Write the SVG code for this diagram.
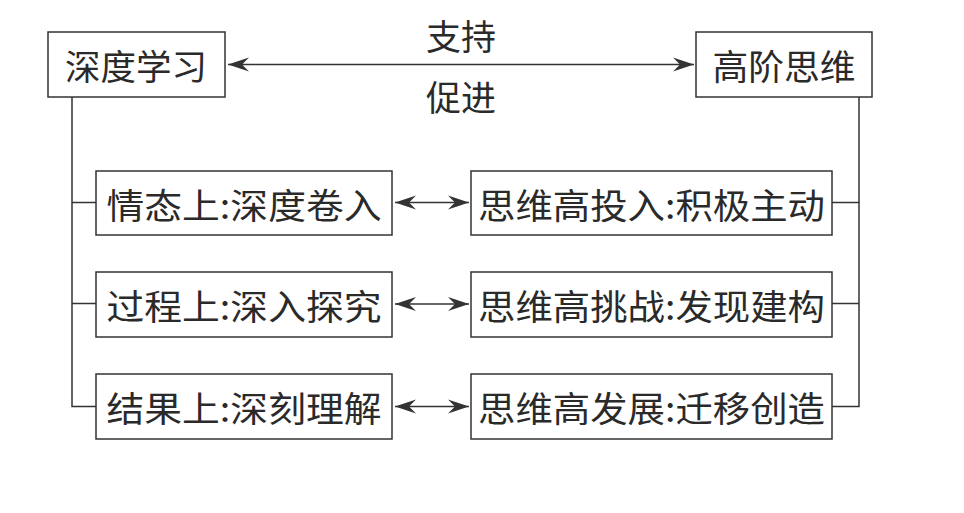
<svg xmlns="http://www.w3.org/2000/svg" width="964" height="513" viewBox="0 0 964 513">
<defs>
<style>
.box{fill:#fff;stroke:#333;stroke-width:1.5}
.t{font-family:"Noto Sans CJK SC","Noto Sans",sans-serif;font-size:35px;fill:#2a2a2a;text-anchor:middle;dominant-baseline:central}
.ln{fill:none;stroke:#333;stroke-width:1.5}
</style>
<marker id="ah" markerUnits="userSpaceOnUse" markerWidth="24" markerHeight="16" viewBox="-22 -8 24 16" refX="0" refY="0" orient="auto-start-reverse">
<path d="M0,0 L-21,-7 L-14,0 L-21,7 Z" fill="#333"/>
</marker>
</defs>
<rect width="964" height="513" fill="#fff"/>
<g id="connectors">
<line class="ln" x1="228" y1="64.5" x2="694" y2="64.5" marker-start="url(#ah)" marker-end="url(#ah)"/>
<polyline class="ln" points="72,97 72,406.5 96,406.5"/>
<line class="ln" x1="72" y1="202.5" x2="96" y2="202.5"/>
<line class="ln" x1="72" y1="303.5" x2="96" y2="303.5"/>
<polyline class="ln" points="859,97 859,406.5 832,406.5"/>
<line class="ln" x1="859" y1="202.5" x2="832" y2="202.5"/>
<line class="ln" x1="859" y1="303.5" x2="832" y2="303.5"/>
<line class="ln" x1="395" y1="202.5" x2="469" y2="202.5" marker-start="url(#ah)" marker-end="url(#ah)"/>
<line class="ln" x1="395" y1="304" x2="469" y2="304" marker-start="url(#ah)" marker-end="url(#ah)"/>
<line class="ln" x1="395" y1="406.5" x2="469" y2="406.5" marker-start="url(#ah)" marker-end="url(#ah)"/>
<text class="t" x="461" y="34">支持</text>
<text class="t" x="461" y="95">促进</text>
</g>
<g id="deep">
<rect class="box" x="48" y="32" width="177" height="65"/>
<text class="t" x="136" y="64.5" textLength="142" lengthAdjust="spacingAndGlyphs">深度学习</text>
</g>
<g id="high">
<rect class="box" x="696" y="32" width="176" height="65"/>
<text class="t" x="784" y="64.5" textLength="143" lengthAdjust="spacingAndGlyphs">高阶思维</text>
</g>
<g id="l1">
<rect class="box" x="96" y="171" width="296" height="64"/>
<text class="t" x="244" y="203" textLength="275" lengthAdjust="spacingAndGlyphs">情态上:深度卷入</text>
</g>
<g id="l2">
<rect class="box" x="96" y="272" width="296" height="65"/>
<text class="t" x="244" y="304" textLength="275" lengthAdjust="spacingAndGlyphs">过程上:深入探究</text>
</g>
<g id="l3">
<rect class="box" x="96" y="374" width="296" height="65"/>
<text class="t" x="244" y="406" textLength="275" lengthAdjust="spacingAndGlyphs">结果上:深刻理解</text>
</g>
<g id="r1">
<rect class="box" x="471" y="171" width="361" height="64"/>
<text class="t" x="651.5" y="203" textLength="347" lengthAdjust="spacingAndGlyphs">思维高投入:积极主动</text>
</g>
<g id="r2">
<rect class="box" x="471" y="272" width="361" height="65"/>
<text class="t" x="651.5" y="304" textLength="347" lengthAdjust="spacingAndGlyphs">思维高挑战:发现建构</text>
</g>
<g id="r3">
<rect class="box" x="471" y="374" width="361" height="65"/>
<text class="t" x="651.5" y="406" textLength="347" lengthAdjust="spacingAndGlyphs">思维高发展:迁移创造</text>
</g>
</svg>
